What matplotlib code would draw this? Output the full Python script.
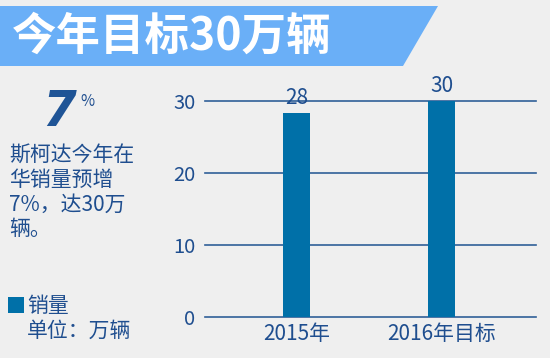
import matplotlib
matplotlib.use("Agg")
import matplotlib.pyplot as plt
from matplotlib.patches import Polygon, Rectangle

plt.rcParams['font.family'] = ['Noto Sans CJK SC', 'DejaVu Sans']

title = "今年目标30万辆"
categories = ["2015年", "2016年目标"]
values = [28.3, 30.0]
value_labels = ["28", "30"]
yticks = [0, 10, 20, 30]
big_number = "7"
note_lines = ["斯柯达今年在", "华销量预增", "7%，达30万", "辆。"]
legend_label = "销量"
unit_label = "单位：万辆"

BG = "#efefef"
BANNER = "#6aaff7"
TEXT = "#1f4e8f"
BAR = "#0070a8"
GRID = "#2f5f98"

W, H = 550, 358
fig = plt.figure(figsize=(W / 100, H / 100), dpi=100, facecolor=BG)

def fx(px):
    return px / W

def fy(py):
    return 1 - py / H

# banner
fig.patches.append(Polygon([(fx(0), fy(6)), (fx(438), fy(6)), (fx(403), fy(66)), (fx(0), fy(66))],
                           closed=True, transform=fig.transFigure, facecolor=BANNER, edgecolor='none'))
fig.text(fx(12), fy(37), title, color='white', fontsize=32, fontweight='bold', ha='left', va='center')

# axes
ax = fig.add_axes([fx(205), fy(317), fx(536) - fx(205), fy(101) - fy(317)])
ax.set_facecolor(BG)
x = list(range(len(categories)))
ax.bar(x, values, width=0.186, color=BAR, zorder=3)
ax.set_xlim(-0.631, 1.652)
ax.set_ylim(0, 30)
ax.set_yticks(yticks)
ax.set_yticklabels([str(t) for t in yticks])
for t in yticks:
    ax.axhline(t, color=GRID, lw=1.2, zorder=2, clip_on=False)
for s in ax.spines.values():
    s.set_visible(False)
ax.tick_params(axis='y', length=0, pad=7, labelsize=14.5, labelcolor=TEXT)
ax.tick_params(axis='x', length=0, pad=4, labelsize=15, labelcolor=TEXT)
ax.set_xticks(x)
ax.set_xticklabels(categories)
for xi, v, lab in zip(x, values, value_labels):
    ax.text(xi, v + 0.6, lab, ha='center', va='bottom', fontsize=15, color=TEXT)

# left panel
fig.text(fx(59), fy(112), big_number, fontsize=35, fontweight='heavy', fontstyle='oblique',
         family='DejaVu Sans', color="#1f5496", ha='center', va='center')
fig.text(fx(80), fy(102), "%", fontsize=11, color=TEXT, ha='left', va='center')
ys = [156, 180, 205, 229]
for line, yy in zip(note_lines, ys):
    fig.text(fx(9), fy(yy), line, fontsize=15, color=TEXT, ha='left', va='center')

fig.patches.append(Rectangle((fx(8), fy(313)), fx(16), fy(297) - fy(313), transform=fig.transFigure,
                             facecolor=BAR, edgecolor='none'))
fig.text(fx(27), fy(306), legend_label, fontsize=15, color=TEXT, ha='left', va='center')
fig.text(fx(27), fy(331), unit_label, fontsize=15, color=TEXT, ha='left', va='center')

fig.savefig("out.png", dpi=100, facecolor=BG)
